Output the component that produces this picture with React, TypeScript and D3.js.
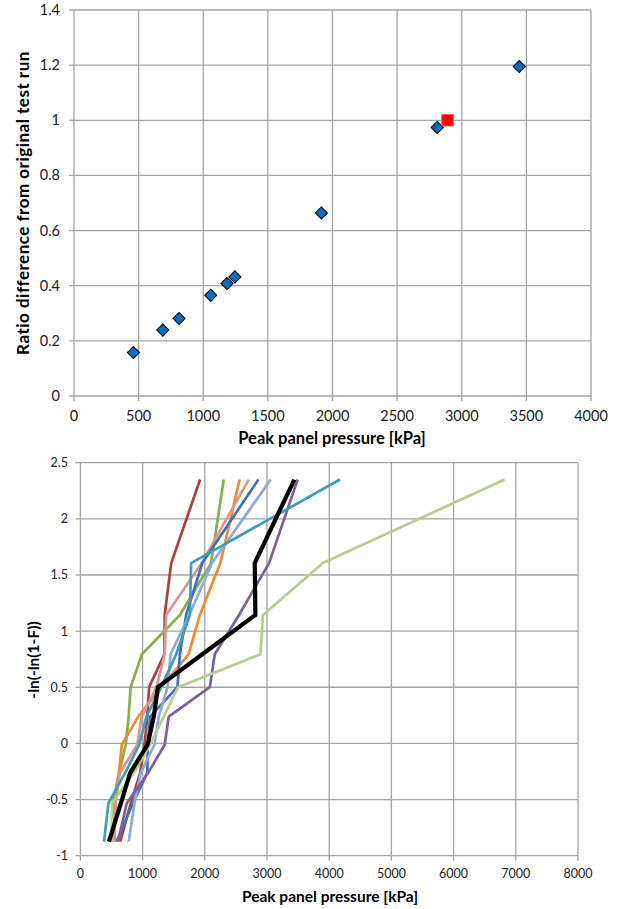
import React from "react";
import * as d3 from "d3";

// ---- top chart data ----
const testPressure = [460, 687, 813, 1058, 1184, 1245, 1914, 2810, 3445];
const testRatio = [0.158, 0.239, 0.281, 0.365, 0.408, 0.432, 0.664, 0.974, 1.195];
const originalPressure = [2890];
const originalRatio = [1.0];
const topXTicks = [0, 500, 1000, 1500, 2000, 2500, 3000, 3500, 4000];
const topYTicks = [0, 0.2, 0.4, 0.6, 0.8, 1, 1.2, 1.4];

// ---- bottom chart data ----
// plotting positions -ln(-ln(1-F)), highest pressure first
const plotPos = [2.35, 1.606, 1.144, 0.794, 0.501, 0.238, -0.012, -0.262, -0.533, -0.875];
const bottomXTicks = [0, 1000, 2000, 3000, 4000, 5000, 6000, 7000, 8000];
const bottomYTicks = [-1, -0.5, 0, 0.5, 1, 1.5, 2, 2.5];

const runRed = [1925, 1460, 1355, 1350, 1105, 1075, 1030, 960, 810, 640];
const runGreen = [2305, 2100, 1600, 990, 808, 775, 730, 620, 525, 520];
const runOrange = [2560, 2250, 1920, 1740, 1300, 930, 665, 620, 565, 540];
const runPink = [2706, 1950, 1380, 1355, 1225, 985, 913, 636, 560, 545];
const runBlue = [2862, 1960, 1700, 1600, 1560, 1120, 1085, 1075, 845, 580];
const runLightBlue = [3059, 2116, 1750, 1450, 1400, 1260, 1190, 970, 870, 777];
const runPurple = [3493, 3033, 2550, 2160, 2080, 1420, 1355, 1090, 745, 605];
const runTeal = [4172, 1780, 1760, 1540, 1300, 1060, 945, 720, 450, 380];
const runLightGreen = [6820, 3900, 2935, 2895, 1570, 1340, 1120, 860, 510, 500];
const runMean = [3440, 2803, 2813, 1960, 1245, 1180, 1080, 800, 650, 459];

const runs = [
  { values: runRed, color: "#A9413F", width: 2.7 },
  { values: runGreen, color: "#8BAD4B", width: 2.7 },
  { values: runOrange, color: "#F08B30", width: 2.7 },
  { values: runPink, color: "#D99694", width: 2.7 },
  { values: runBlue, color: "#4170B2", width: 2.7 },
  { values: runLightBlue, color: "#8EAADB", width: 2.7 },
  { values: runPurple, color: "#7D5FA0", width: 2.7 },
  { values: runTeal, color: "#3E9DB8", width: 2.7 },
  { values: runLightGreen, color: "#B5CD8D", width: 2.7 },
  { values: runMean, color: "#000000", width: 4.2 },
];

const font = "Lato, 'Open Sans', sans-serif";
const gridColor = "#A3A3A3";

function Grid({ x, y, xTicks, yTicks }: any) {
  const [x0, x1] = x.range();
  const [y0, y1] = y.range();
  return (
    <g>
      {xTicks.map((t: number) => (
        <line key={"x" + t} x1={x(t)} x2={x(t)} y1={y0} y2={y1} stroke={gridColor} strokeWidth={1.3} />
      ))}
      {yTicks.map((t: number) => (
        <line key={"y" + t} x1={x0} x2={x1} y1={y(t)} y2={y(t)} stroke={gridColor} strokeWidth={1.3} />
      ))}
      {xTicks.map((t: number) => (
        <line key={"tx" + t} x1={x(t)} x2={x(t)} y1={y0} y2={y0 + 5} stroke={gridColor} strokeWidth={1.3} />
      ))}
      {yTicks.map((t: number) => (
        <line key={"ty" + t} x1={x0 - 5} x2={x0} y1={y(t)} y2={y(t)} stroke={gridColor} strokeWidth={1.3} />
      ))}
    </g>
  );
}

function TopChart() {
  const x = d3.scaleLinear().domain([0, 4000]).range([74, 591]);
  const y = d3.scaleLinear().domain([0, 1.4]).range([396, 10]);
  const diamond = d3.symbol(d3.symbolSquare, 74)()!;
  const square = d3.symbol(d3.symbolSquare, 132)()!;
  return (
    <g>
      <Grid x={x} y={y} xTicks={topXTicks} yTicks={topYTicks} />
      {topXTicks.map((t) => (
        <text key={t} x={x(t)} y={421} textAnchor="middle" fontSize={14.5} fontFamily={font} fill="#222">
          {t}
        </text>
      ))}
      {topYTicks.map((t) => (
        <text key={t} x={60} y={y(t) + 5} textAnchor="end" fontSize={14.5} fontFamily={font} fill="#222">
          {d3.format("~g")(t)}
        </text>
      ))}
      {testPressure.map((p, i) => (
        <path
          key={i}
          d={diamond}
          transform={`translate(${x(p)},${y(testRatio[i])}) rotate(45)`}
          fill="#0A6DBD"
          stroke="#000"
          strokeWidth={1}
        />
      ))}
      {originalPressure.map((p, i) => (
        <path
          key={i}
          d={square}
          transform={`translate(${x(p)},${y(originalRatio[i])})`}
          fill="#FF0000"
          stroke="#F05A5A"
          strokeWidth={1}
        />
      ))}
      <text x={332} y={444} textAnchor="middle" fontSize={16.5} fontWeight="bold" fontFamily={font} fill="#000">
        Peak panel pressure [kPa]
      </text>
      <text
        transform={`translate(29,203) rotate(-90)`}
        textAnchor="middle"
        fontSize={17}
        fontWeight="bold"
        letterSpacing={0.5}
        fontFamily={font}
        fill="#000"
      >
        Ratio difference from original test run
      </text>
    </g>
  );
}

function BottomChart() {
  const x = d3.scaleLinear().domain([0, 8000]).range([80.4, 578]);
  const y = d3.scaleLinear().domain([-1, 2.5]).range([855.7, 462.7]);
  const line = d3
    .line<number>()
    .x((d) => x(d))
    .y((_, i) => y(plotPos[i]));
  return (
    <g>
      <Grid x={x} y={y} xTicks={bottomXTicks} yTicks={bottomYTicks} />
      {bottomXTicks.map((t) => (
        <text key={t} x={x(t)} y={878} textAnchor="middle" fontSize={12.5} fontFamily={font} fill="#222">
          {t}
        </text>
      ))}
      {bottomYTicks.map((t) => (
        <text key={t} x={68} y={y(t) + 4.5} textAnchor="end" fontSize={12.5} fontFamily={font} fill="#222">
          {d3.format("~g")(t).replace("−", "-")}
        </text>
      ))}
      {runs.map((r, i) => (
        <path
          key={i}
          d={line(r.values)!}
          fill="none"
          stroke={r.color}
          strokeWidth={r.width}
          strokeLinejoin="round"
        />
      ))}
      <text x={330} y={902} textAnchor="middle" fontSize={15.5} fontWeight="bold" fontFamily={font} fill="#000">
        Peak panel pressure [kPa]
      </text>
      <text
        transform={`translate(39,660) rotate(-90)`}
        textAnchor="middle"
        fontSize={15.5}
        fontWeight="bold"
        fontFamily={font}
        fill="#000"
      >
        -ln(-ln(1-F))
      </text>
    </g>
  );
}

export default function App() {
  return (
    <svg
      width={621}
      height={909}
      style={{ position: "absolute", left: 0, top: 0, background: "#fff" }}
    >
      <rect width={621} height={909} fill="#fff" />
      <TopChart />
      <BottomChart />
    </svg>
  );
}
